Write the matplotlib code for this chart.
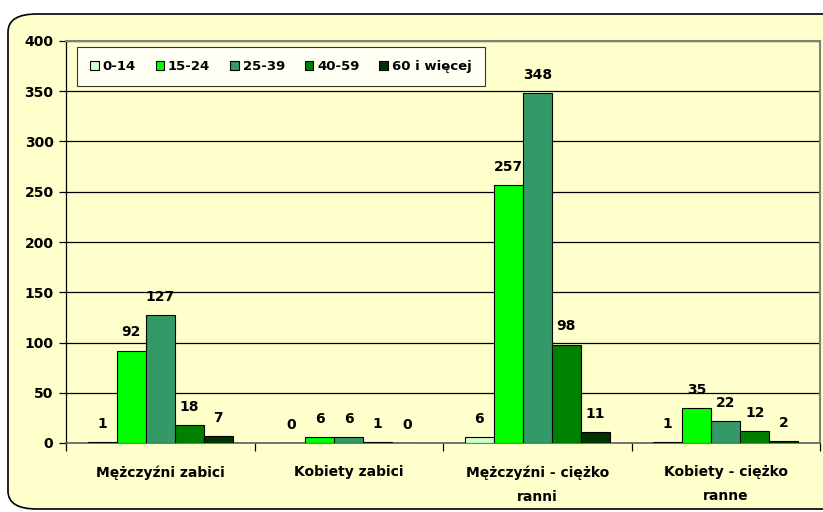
import matplotlib.pyplot as plt
import numpy as np
from matplotlib.patches import FancyBboxPatch

categories = ["Mężczyźni zabici", "Kobiety zabici",
              "Mężczyźni - ciężko\nranni", "Kobiety - ciężko\nranne"]
age_groups = ["0-14", "15-24", "25-39", "40-59", "60 i więcej"]
values = {
    "0-14": [1, 0, 6, 1],
    "15-24": [92, 6, 257, 35],
    "25-39": [127, 6, 348, 22],
    "40-59": [18, 1, 98, 12],
    "60 i więcej": [7, 0, 11, 2],
}
colors = ["#CCFFCC", "#00FF00", "#339966", "#008000", "#003300"]

plt.rcParams['font.family'] = ['DejaVu Sans']
plt.rcParams['font.weight'] = 'bold'

fig = plt.figure(figsize=(8.23, 5.12), dpi=100)
fig.patch.set_facecolor("white")

# rounded chart area background (right side runs off the picture)
box = FancyBboxPatch((8 / 823, 3 / 512), 860 / 823, 495 / 512,
                     boxstyle="round,pad=0,rounding_size=0.035",
                     transform=fig.transFigure, facecolor="#FFFFCC",
                     edgecolor="black", linewidth=1.2, zorder=-10)
fig.patches.append(box)

ax = fig.add_axes([66 / 823, 1 - 443 / 512, (820 - 66) / 823, (443 - 41) / 512])
ax.set_facecolor("#FFFFCC")

x = np.arange(len(categories))
w = 1 / 6.5
for i, (grp, col) in enumerate(zip(age_groups, colors)):
    pos = x + (i - 2) * w
    bars = ax.bar(pos, values[grp], width=w, color=col, edgecolor="black",
                  linewidth=0.8, label=grp, zorder=3)
    for b, v in zip(bars, values[grp]):
        ax.annotate(str(v), (b.get_x() + b.get_width() / 2, v),
                    xytext=(0, 8), textcoords="offset points",
                    ha="center", va="bottom", fontsize=10,
                    fontweight="bold")

ax.set_xlim(-0.5, 3.5)
ax.set_ylim(0, 400)
ax.set_yticks(range(0, 401, 50))
ax.yaxis.grid(True, color="black", linewidth=0.9, zorder=1)
ax.set_axisbelow(True)
ax.tick_params(axis="y", length=5, width=0.9, labelsize=10, pad=4)

ax.set_xticks([-0.5, 0.5, 1.5, 2.5, 3.5])
ax.set_xticklabels([])
ax.set_xticks(x, minor=True)
ax.set_xticklabels(categories, minor=True, fontsize=10, fontweight="bold",
                   linespacing=1.9)
ax.tick_params(axis="x", which="major", length=6, width=0.9)
ax.tick_params(axis="x", which="minor", length=0, pad=16)

for s in ["top", "right"]:
    ax.spines[s].set_color("#808080")
    ax.spines[s].set_linewidth(1.5)
ax.spines["left"].set_linewidth(0.9)
ax.spines["bottom"].set_color("#606060")
ax.spines["bottom"].set_linewidth(1.2)

leg = ax.legend(ncol=5, loc="upper left", bbox_to_anchor=(0.009, 0.995),
                frameon=True, fancybox=False,
                handlelength=0.65, handleheight=0.65, handletextpad=0.3,
                columnspacing=1.5, borderpad=1.0, borderaxespad=0.3,
                prop={"weight": "bold", "size": 9.5})
leg.get_frame().set_edgecolor("black")
leg.get_frame().set_linewidth(0.8)
leg.get_frame().set_facecolor("white")
leg.set_zorder(5)

plt.savefig("out.png", dpi=100)
